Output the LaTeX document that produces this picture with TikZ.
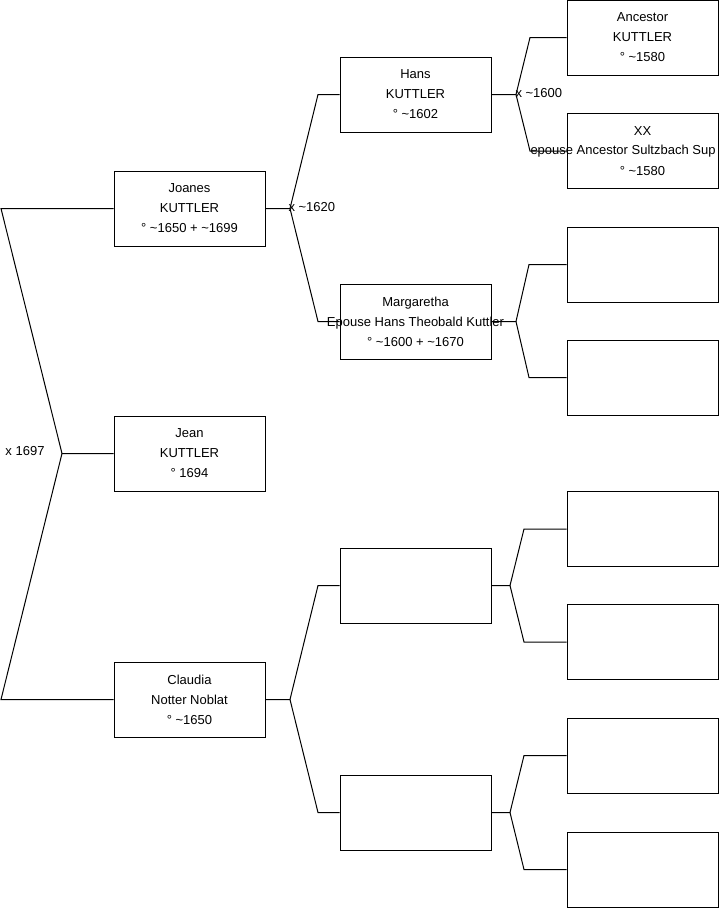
\documentclass[tikz,border=0pt]{standalone}
\usepackage{fontspec}
\setmainfont{Liberation Sans}
\newcommand{\abt}{\textasciitilde}

\begin{document}
\begin{tikzpicture}[
	x=1pt, y=-1pt,
	line width=1pt,
	person/.style={draw, minimum width=151pt, minimum height=75pt, inner sep=0pt,
		align=center, font=\fontsize{13}{20}\selectfont},
	lbl/.style={inner sep=0pt, font=\fontsize{13}{16}\selectfont}
	]
	\useasboundingbox (0,0) rectangle (719,908);
	% generation 1
	\node[person] (joanes)  at (189.5,208.5) {Joanes\\KUTTLER\\° \abt1650 + \abt1699};
	\node[person] (jean)    at (189.5,453.5) {Jean\\KUTTLER\\° 1694};
	\node[person] (claudia) at (189.5,699.5) {Claudia\\Notter Noblat\\° \abt1650};
	% generation 2
	\node[person] (hans)  at (415.5,94.5)  {Hans\\KUTTLER\\° \abt1602};
	\node[person] (marga) at (415.5,321.5) {Margaretha\\\makebox[0pt]{Epouse Hans Theobald Kuttler}\\° \abt1600 + \abt1670};
	\node[person] (pc)    at (415.5,585.5) {};
	\node[person] (pd)    at (415.5,812.5) {};
	% generation 3
	\node[person] (anc) at (642.5,37.5) {Ancestor\\KUTTLER\\° \abt1580};
	\node[person] (xx)  at (642.5,151)  {XX\\[20pt]° \abt1580};
	\node[lbl, anchor=west] (xxnote) at (530,151) {epouse Ancestor Sultzbach Sup};
	\node[person] (gc) at (642.5,264.5) {};
	\node[person] (gd) at (642.5,377.5) {};
	\node[person] (ge) at (642.5,529)   {};
	\node[person] (gf) at (642.5,642)   {};
	\node[person] (gg) at (642.5,755.5) {};
	\node[person] (gh) at (642.5,869.5) {};

	% root fork
	\coordinate (rf) at (62,453.5);
	\draw (joanes.west) -- (1,208.5) -- (rf) -- (jean.west);
	\draw (rf) -- (1,699.5) -- (claudia.west);
	\node[lbl, anchor=east] (m1697) at (45,451) {x 1697};
	% Joanes
	\coordinate (jf) at (290,208.5);
	\draw (joanes.east) -- (jf) -- (318,94.5) -- (hans.west);
	\draw (jf) -- (318,321.5) -- (marga.west);
	\node[lbl, anchor=west] (m1620) at (288,207) {x \abt1620};
	% Claudia
	\coordinate (cf) at (290,699.5);
	\draw (claudia.east) -- (cf) -- (318,585.5) -- (pc.west);
	\draw (cf) -- (318,812.5) -- (pd.west);
	% Hans
	\coordinate (hf) at (516,94.5);
	\draw (hans.east) -- (hf) -- (530,37.5) -- (anc.west);
	\draw (hf) -- (530,151) -- (xx.west);
	\node[lbl, anchor=west] (m1600) at (515,93) {x \abt1600};
	% Margaretha
	\coordinate (mf) at (516,321.5);
	\draw (marga.east) -- (mf) -- (529,264.5) -- (gc.west);
	\draw (mf) -- (529,377.5) -- (gd.west);
	% empty boxes
	\coordinate (pcf) at (510,585.5);
	\draw (pc.east) -- (pcf) -- (524,529) -- (ge.west);
	\draw (pcf) -- (524,642) -- (gf.west);
	\coordinate (pdf) at (510,812.5);
	\draw (pd.east) -- (pdf) -- (524,755.5) -- (gg.west);
	\draw (pdf) -- (524,869.5) -- (gh.west);
\end{tikzpicture}
\end{document}
